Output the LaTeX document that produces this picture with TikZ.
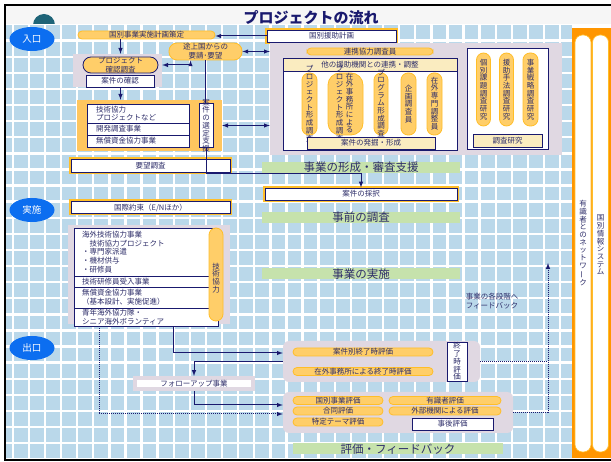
\documentclass[tikz,border=0pt]{standalone}
\usepackage{fontspec}
\setmainfont{Noto Sans CJK JP}
\usepackage{graphicx}
\usepackage{tikz}
\usetikzlibrary{shapes,arrows,fit}
\definecolor{gridblue}{RGB}{186,216,234}
\definecolor{headgray}{RGB}{246,246,246}
\definecolor{logoteal}{RGB}{30,100,120}
\definecolor{navy}{RGB}{25,25,110}
\definecolor{navytext}{RGB}{45,45,105}
\definecolor{ovalblue}{RGB}{12,110,240}
\definecolor{pillfill}{RGB}{255,206,105}
\definecolor{pillline}{RGB}{255,190,40}
\definecolor{orangebox}{RGB}{255,198,95}
\definecolor{lavgray}{RGB}{224,216,226}
\definecolor{beigefill}{RGB}{250,236,192}
\definecolor{greenfill}{RGB}{198,226,172}
\definecolor{orangecol}{RGB}{255,150,0}
\newcommand{\jpsmall}{\fontsize{7.5}{8.7}\selectfont}
\newcommand{\jpvert}{\fontsize{7.5}{7.7}\selectfont}
\newcommand{\jpbig}{\fontsize{11.5}{12}\selectfont}
\tikzstyle{gridline} = [white, line width=2.4pt]
\tikzstyle{oval} = [ellipse, fill=ovalblue, text=white, inner sep=0pt, minimum width=45pt, minimum height=24pt, font=\fontsize{9.5}{10}\selectfont]
\tikzstyle{pill} = [draw=pillline, fill=pillfill, line width=0.8pt, rounded corners=4pt, inner sep=0pt, text=navytext, font=\jpsmall]
\tikzstyle{vpill} = [draw=pillline, fill=pillfill, line width=0.8pt, rounded corners=7pt, inner sep=0pt]
\tikzstyle{wbox} = [draw=navy, fill=white, line width=0.9pt, inner sep=0pt, text=navytext, font=\jpsmall]
\tikzstyle{yshadow} = [preaction={draw=pillline, line width=4pt}]
\tikzstyle{wrow} = [wbox, align=left, inner xsep=9pt, text width=84pt]
\tikzstyle{implrow} = [wbox, align=left, inner xsep=8pt, text width=128pt]
\tikzstyle{beigebox} = [draw=navy, fill=beigefill, line width=0.9pt, inner sep=0pt, text=navytext, font=\jpsmall]
\tikzstyle{graybg} = [fill=lavgray, inner sep=0pt]
\tikzstyle{greenlbl} = [fill=greenfill, inner sep=0pt, minimum width=198pt, minimum height=11pt, text=navytext, font=\jpbig]
\tikzstyle{vtext} = [align=center, inner sep=0pt, text=navytext, font=\jpvert]
\tikzstyle{netbar} = [fill=white, draw=pillline, line width=0.6pt, rounded corners=7.5pt, minimum width=16pt, minimum height=417pt, inner sep=0pt]
\tikzstyle{link} = [draw=navy, line width=1pt, -latex]
\tikzstyle{dlink} = [draw=navy, line width=1pt, latex-latex]
\tikzstyle{fb} = [draw=navy, line width=1pt, densely dotted]

\begin{document}
\begin{tikzpicture}[x=1pt,y=-1pt]
\useasboundingbox (0,0) rectangle (611,462);
% background grid
\fill[white] (0,0) rectangle (611,462);
\fill[gridblue] (6,25) rectangle (572,459);
\foreach \k in {0,...,35}
  \draw[gridline] ({12.7+16.1*\k},25) -- ({12.7+16.1*\k},459);
\foreach \k in {1,...,27}
  \draw[gridline] (6,{24.6+16.1*\k}) -- (572,{24.6+16.1*\k});
\fill[headgray] (6,6) rectangle (611,24);
\begin{scope}
\clip (30,6) rectangle (60,24);
\fill[logoteal] (44,25) circle (11);
\end{scope}
\draw[line width=2pt] (5,5) rectangle (612,460);
\node[font=\fontsize{15}{15}\selectfont\bfseries, text=navy] (title) at (311,18) {プロジェクトの流れ};

% network column
\fill[orangecol] (572,28) rectangle (611,458);
\node[netbar] (network) at (583,243.5) {};
\node[netbar] (infosys) at (600.5,243.5) {};
\node[vtext] at (583,243) {有\\識\\者\\と\\の\\ネ\\ッ\\ト\\ワ\\\rotatebox[origin=c]{90}{ー}\\ク};
\node[vtext] at (600.5,245) {国\\別\\情\\報\\シ\\ス\\テ\\ム};

% phases
\node[oval] (entrance) at (32,39) {入口};
\node[oval] (implement) at (32,210) {実施};
\node[oval] (exitoval) at (32,348) {出口};

% entrance
\node[pill, minimum width=137pt, minimum height=8pt] (countryplan) at (146.5,35) {国別事業実施計画策定};
\node[wbox, yshadow, minimum width=129pt, minimum height=12pt] (aidplan) at (331.5,36) {国別援助計画};
\node[pill, rounded corners=8pt, align=center, minimum width=73pt, minimum height=17pt] (request) at (205.5,51.5) {途上国からの\\要請･要望};
\node[graybg, minimum width=89pt, minimum height=33pt] (confirmbg) at (117.5,70.5) {};
\node[pill, draw=navy, rounded corners=8pt, align=center, minimum width=75pt, minimum height=16pt] (confirmsurvey) at (120.5,65) {プロジェクト\\確認調査};
\node[wbox, minimum width=68pt, minimum height=12pt] (confirm) at (120,81) {案件の確認};

\node[fill=orangebox, inner sep=0pt, minimum width=145pt, minimum height=51pt] (selectbg) at (149.5,125.5) {};
\node[wrow, minimum height=19pt] (scheme1) at (138,113.5) {技術協力\\プロジェクトなど};
\node[wrow, minimum height=12pt] (scheme2) at (138,129) {開発調査事業};
\node[wrow, minimum height=12pt] (scheme3) at (138,141) {無償資金協力事業};
\node[wbox, minimum width=14pt, minimum height=44pt] (select) at (206,125) {};
\node[vtext] at (206,125.5) {案\\件\\の\\選\\定\\支\\援};

\node[wbox, yshadow, minimum width=159pt, minimum height=13pt] (demand) at (150.5,165.5) {要望調査};
\node[wbox, yshadow, minimum width=159pt, minimum height=12pt] (pledge) at (150.5,207.5) {国際約束（E/Nほか）};

% formulation
\node[graybg, minimum width=292pt, minimum height=112pt] (formbg) at (416,99) {};
\node[pill, minimum width=126pt, minimum height=7pt] (coop) at (370,51.5) {連携協力調査員};
\node[beigebox, minimum width=174pt, minimum height=13pt] (liaison) at (370,64.5) {他の援助機関との連携・調整};
\node[wbox, minimum width=174pt, minimum height=79pt] (formwhite) at (370,110.5) {};
\node[vpill, minimum width=15pt, minimum height=62pt] (form1) at (309.5,104) {};
\node[vpill, rounded corners=12pt, minimum width=35pt, minimum height=62pt] (form2) at (345.5,104) {};
\node[vpill, minimum width=14pt, minimum height=62pt] (form3) at (381,104) {};
\node[vpill, minimum width=15pt, minimum height=62pt] (form4) at (408.5,104) {};
\node[vpill, minimum width=15pt, minimum height=62pt] (form5) at (434.5,104) {};
\node[vtext] at (309.5,103.5) {プ\\ロ\\ジ\\ェ\\ク\\ト\\形\\成\\調\\査};
\node[vtext] at (349.5,103) {在\\外\\事\\務\\所\\に\\よ\\る};
\node[vtext] at (339.5,103.5) {プ\\ロ\\ジ\\ェ\\ク\\ト\\形\\成\\調\\査};
\node[vtext] at (381,103) {プ\\ロ\\グ\\ラ\\ム\\形\\成\\調\\査};
\node[vtext] at (408.5,104) {企\\画\\調\\査\\員};
\node[vtext] at (434.5,103.5) {在\\外\\専\\門\\調\\整\\員};
\node[beigebox, minimum width=128pt, minimum height=12pt] (dig) at (371,143) {案件の発掘・形成};

\node[wbox, minimum width=81pt, minimum height=101pt] (studybox) at (507.5,98.5) {};
\node[vpill, minimum width=14pt, minimum height=73pt] (study1) at (483.5,89.5) {};
\node[vpill, minimum width=14pt, minimum height=73pt] (study2) at (506.5,89.5) {};
\node[vpill, minimum width=15pt, minimum height=73pt] (study3) at (530.5,89.5) {};
\node[vtext] at (483.5,89.5) {個\\別\\課\\題\\調\\査\\研\\究};
\node[vtext] at (506.5,89.5) {援\\助\\手\\法\\調\\査\\研\\究};
\node[vtext] at (530.5,89.5) {事\\業\\戦\\略\\調\\査\\研\\究};
\node[beigebox, minimum width=69pt, minimum height=13pt] (studylabel) at (507.5,140.5) {調査研究};

\node[greenlbl] (lblform) at (361,167.5) {事業の形成・審査支援};
\node[wbox, yshadow, minimum width=192pt, minimum height=12pt] (adopt) at (361,194) {案件の採択};
\node[greenlbl] (lblpre) at (361,217.5) {事前の調査};
\node[greenlbl] (lblimpl) at (361,274) {事業の実施};
\node[greenlbl, minimum width=210pt] (lblfb) at (398,449) {評価・フィードバック};

% implementation
\node[graybg, minimum width=162pt, minimum height=99pt] (implbg) at (149,274.5) {};
\node[implrow, minimum height=48pt] (impl1) at (146,252) {海外技術協力事業\\　技術協力プロジェクト\\・専門家派遣\\・機材供与\\・研修員};
\node[implrow, minimum height=11pt] (impl2) at (146,281.5) {技術研修員受入事業};
\node[implrow, minimum height=21pt] (impl3) at (146,297.5) {無償資金協力事業\\（基本設計、実施促進）};
\node[implrow, minimum height=18pt] (impl4) at (146,317) {青年海外協力隊・\\シニア海外ボランティア};
\node[vpill, minimum width=14pt, minimum height=93pt] (tcpill) at (216,274.5) {};
\node[vtext] at (216,278) {技\\術\\協\\力};

% evaluation
\node[graybg, rounded corners=6pt, minimum width=197pt, minimum height=41pt] (evalA) at (381.5,361.5) {};
\node[pill, minimum width=140pt, minimum height=8pt] (endeval1) at (363,352) {案件別終了時評価};
\node[pill, minimum width=140pt, minimum height=8pt] (endeval2) at (363,371.5) {在外事務所による終了時評価};
\node[wbox, align=center, font=\jpvert, minimum width=20pt, minimum height=39pt] (endeval) at (457,361.5) {終\\了\\時\\評\\価};
\node[graybg, rounded corners=6pt, minimum width=230pt, minimum height=41pt] (evalB) at (398,412.5) {};
\node[pill, minimum width=90pt, minimum height=8pt] (evalcountry) at (338,400.5) {国別事業評価};
\node[pill, minimum width=90pt, minimum height=8pt] (evaljoint) at (338,411) {合同評価};
\node[pill, minimum width=90pt, minimum height=8pt] (evaltheme) at (338,422) {特定テーマ評価};
\node[pill, minimum width=112pt, minimum height=8pt] (evalexpert) at (445,400.5) {有識者評価};
\node[pill, minimum width=112pt, minimum height=8pt] (evalext) at (445,411) {外部機関による評価};
\node[wbox, minimum width=81pt, minimum height=12pt] (posteval) at (452.5,424) {事後評価};
\node[wbox, draw=lavgray, line width=4pt, minimum width=118pt, minimum height=11pt] (followup) at (194,383.5) {フォローアップ事業};
\node[align=left, inner sep=0pt, text=navytext, font=\fontsize{7.5}{9}\selectfont] (fbtext) at (492,301) {事業の各段階へ\\フィードバック};
\coordinate (fbtop) at (548,263);

% connectors
\draw[link] (aidplan.west) -- (aidplan.west -| countryplan.east);
\draw[link] (confirmsurvey |- countryplan.south) -- (confirmsurvey |- confirmbg.north);
\draw[dlink] ([xshift=-15pt]request.south) |- (confirmsurvey -| confirmbg.east);
\draw[dlink] (request.east) -- (request.east -| formbg.west);
\draw[link] (confirmsurvey |- confirmbg.south) -- (confirmsurvey |- selectbg.north);
\draw[dlink] (selectbg.east) -- (selectbg.east -| formbg.west);
\draw[navy, line width=1pt] (request.south) -- (request.south |- select.north);
\draw[link] (select.south) -- ++(0,26) -| (adopt.north);
\draw[link] ([xshift=27pt]impl4.south) |- ([yshift=8.5pt]evalA.west);
\draw[link] (evalA.west) -| (followup.north);
\draw[link] (followup.south) |- ([yshift=7.5pt]evalB.west);
\draw[fb, -latex] ([xshift=-47pt]impl4.south) |- ([yshift=-1.5pt]evalB.west);
\draw[fb, -latex] (evalB.east) -| (fbtop);
\draw[fb] (evalA.east) -- (evalA.east -| fbtop);
\end{tikzpicture}
\end{document}
